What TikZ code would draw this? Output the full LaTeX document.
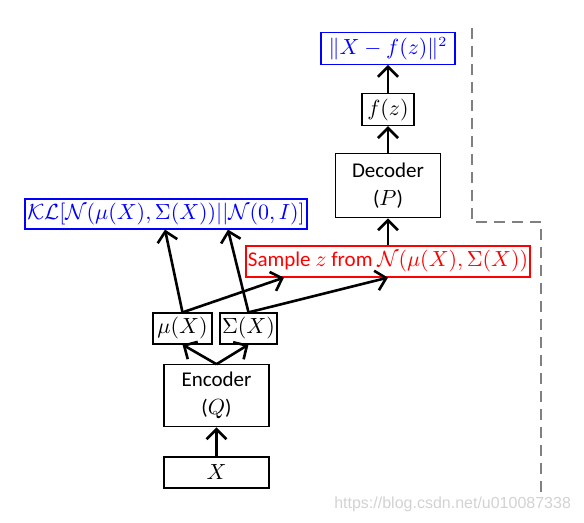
\documentclass[tikz,border=0pt]{standalone}
\usepackage{amsmath}
\usepackage{amssymb}
\usepackage{fontspec}
\setmainfont{Carlito}
\newfontfamily\markfont{Liberation Sans}
\usetikzlibrary{positioning}
\usetikzlibrary{arrows.meta}

\tikzset{
    box/.style={draw, line width=0.6pt, rectangle, inner sep=0pt, align=center,
        font=\fontsize{10.5}{13}\selectfont},
    bluebox/.style={box, draw=blue, text=blue},
    redbox/.style={box, draw=red, text=red},
    arr/.style={line width=1.3pt, -{Straight Barb[length=5pt, width=10pt, line width=1.3pt]}},
}

\begin{document}
\begin{tikzpicture}[x=0.5pt, y=-0.5pt, node distance=14pt]
    \useasboundingbox (0,0) rectangle (584,523);
    % input and encoder
    \node[box, minimum width=52.5pt, minimum height=15.5pt] (X) at (216.5,472.5) {$X$};
    \node[box, minimum width=52.5pt, minimum height=31pt, above=14.5pt of X] (enc) {Encoder\\[1pt]($Q$)};
    \node[box, minimum width=29.5pt, minimum height=15.5pt] (mu) at (182.5,328.5) {$\mu(X)$};
    \node[box, minimum width=28.5pt, minimum height=15.5pt] (sig) at (248.5,328.5) {$\Sigma(X)$};
    % losses and sampling
    \node[bluebox, minimum width=141pt, minimum height=15pt] (kl) at (166,214)
        {$\mathcal{K}\mathcal{L}[\mathcal{N}(\mu(X),\Sigma(X))||\mathcal{N}(0,I)]$};
    \node[redbox, minimum width=142pt, minimum height=15.5pt] (samp) at (388,261.5)
        {Sample $z$ from $\mathcal{N}(\mu(X),\Sigma(X))$};
    % decoder side
    \node[box, minimum width=52.5pt, minimum height=32pt, above=13.5pt of samp] (dec) {Decoder\\[1pt]($P$)};
    \node[box, minimum width=26pt, minimum height=16pt, above=13.5pt of dec] (fz) {$f(z)$};
    \node[bluebox, minimum width=67pt, minimum height=16pt, above=14pt of fz] (rec) {$\|X-f(z)\|^2$};
    %
    \draw[arr] (X) -- (enc);
    \draw[arr] (enc.north) -- (mu.south);
    \draw[arr] (enc.north) -- (sig.south);
    \draw[arr] (mu.north) -- (kl.south -| 165,0);
    \draw[arr] (sig.north) -- (kl.south -| 228,0);
    \draw[arr] (mu.north) -- (samp.south -| 284,0);
    \draw[arr] (sig.north) -- (samp.south -| 388,0);
    \draw[arr] (samp) -- (dec);
    \draw[arr] (dec) -- (fz);
    \draw[arr] (fz) -- (rec);
    % dashed separator
    \coordinate (d1) at (472,28);
    \coordinate (d2) at (472,222);
    \coordinate (d3) at (541,222);
    \coordinate (d4) at (541,494);
    \draw[gray, line width=1.4pt, dash pattern=on 5.5pt off 3.5pt] (d1) -- (d2) -- (d3) -- (d4);
    % watermark
    \node[text=gray!35, font=\markfont\fontsize{8}{9}\selectfont, anchor=east] (mark) at (578,504)
        {https://blog.csdn.net/u010087338};
\end{tikzpicture}
\end{document}
